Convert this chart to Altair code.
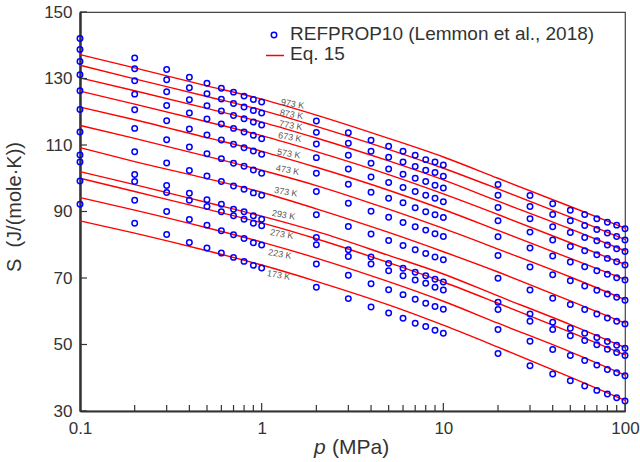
import altair as alt
import pandas as pd

# ---- data ----
temps = [973, 873, 773, 673, 573, 473, 373, 293, 273, 223, 173]
pressures = [0.1, 0.2, 0.3, 0.4, 0.5, 0.6, 0.7, 0.8, 0.9, 1,
             2, 3, 4, 5, 6, 7, 8, 9, 10,
             20, 30, 40, 50, 60, 70, 80, 90, 100]

s_973 = [142.0,136.2,132.7,130.4,128.6,127.1,125.9,124.7,123.7,122.9,117.2,113.7,111.4,109.6,108.1,106.9,105.6,104.9,104.0,98.1,94.8,92.3,90.4,89.1,87.8,86.8,85.9,84.8]
s_873 = [138.7,132.9,129.6,127.2,125.4,123.8,122.5,121.4,120.4,119.6,113.8,110.5,108.1,106.3,104.9,103.5,102.4,101.7,100.6,94.9,91.5,89.1,87.2,85.8,84.6,83.5,82.5,81.4]
s_773 = [135.1,129.3,126.0,123.6,121.8,120.2,118.9,117.9,116.9,116.0,110.3,106.9,104.5,102.8,101.2,100.0,99.0,97.9,97.1,91.2,87.8,85.4,83.7,82.2,81.2,79.9,78.8,78.0]
s_673 = [131.1,125.3,121.9,119.6,117.8,116.3,115.0,113.9,112.9,111.9,106.2,102.8,100.4,98.7,97.2,96.0,94.9,94.0,92.9,87.2,83.8,81.4,79.5,78.2,77.0,75.9,74.9,73.9]
s_573 = [126.3,120.6,117.3,114.8,113.0,111.5,110.2,109.2,108.2,107.2,101.5,98.2,95.8,94.0,92.6,91.1,89.9,89.0,88.2,82.4,79.0,76.6,74.8,73.4,72.2,71.1,70.1,69.4]
s_473 = [120.7,115.0,111.6,109.4,107.4,105.9,104.5,103.6,102.5,101.5,96.0,92.5,90.1,88.3,86.7,85.4,84.4,83.3,82.5,76.8,73.3,71.0,69.2,67.6,66.3,65.2,64.2,63.3]
s_373 = [113.9,108.0,104.6,102.3,100.7,99.0,97.7,96.7,95.6,94.9,89.0,85.5,83.2,81.3,79.8,78.5,77.4,76.3,75.5,69.9,66.4,63.9,62.0,60.5,59.2,58.0,57.0,56.2]
s_293 = [107.0,101.1,97.8,95.5,93.5,92.2,90.7,89.9,88.7,87.7,82.2,78.5,76.3,74.4,72.9,71.7,70.7,69.6,68.8,62.7,59.2,56.7,54.9,53.4,52.1,50.9,49.8,48.9]
s_273 = [104.9,99.0,95.7,93.4,91.5,89.9,88.7,87.7,86.5,85.7,80.0,76.5,74.2,72.2,70.7,69.4,68.4,67.2,66.4,60.5,57.0,54.5,52.6,51.2,49.9,48.6,47.6,46.7]
s_223 = [99.2,93.4,90.0,87.6,85.9,84.2,83.0,81.9,80.6,79.9,74.2,70.8,68.3,66.5,65.0,63.6,62.4,61.4,60.6,54.5,51.0,48.5,46.7,45.2,43.8,42.5,41.5,40.6]
s_173 = [92.2,86.5,83.1,80.7,79.0,77.5,76.2,75.0,73.8,73.0,67.2,63.8,61.3,59.5,57.9,56.4,55.4,54.3,53.4,47.3,43.6,41.1,39.1,37.5,36.2,35.1,34.0,33.0]
points_by_T = [s_973, s_873, s_773, s_673, s_573, s_473, s_373, s_293, s_273, s_223, s_173]

# Eq. 15 curves
line_pressures = [0.1, 0.2, 0.5, 1, 2, 5, 10, 20, 50, 100]
l_973 = [137.2,133.2,127.8,123.8,119.0,112.0,106.4,100.0,91.5,85.0]
l_873 = [134.0,129.9,124.6,120.5,115.6,108.7,103.0,96.8,88.3,81.6]
l_773 = [130.2,126.3,121.0,116.9,112.1,105.2,99.5,93.1,84.8,78.2]
l_673 = [126.2,122.3,117.0,112.8,108.0,101.1,95.3,89.1,80.6,74.1]
l_573 = [121.4,117.6,112.2,108.1,103.3,96.4,90.6,84.3,75.9,69.6]
l_473 = [115.9,112.0,106.6,102.4,97.8,90.7,84.9,78.7,70.3,63.5]
l_373 = [109.2,105.0,99.9,95.8,90.8,83.7,77.9,71.8,63.1,56.4]
l_293 = [102.0,98.1,92.7,88.6,84.0,76.8,71.2,64.6,56.0,49.1]
l_273 = [100.0,96.0,90.7,86.6,81.8,74.6,68.8,62.4,53.7,46.9]
l_223 = [94.2,90.4,85.1,80.8,76.0,68.9,63.0,56.4,47.8,40.8]
l_173 = [87.2,83.5,78.2,73.9,69.0,61.9,55.8,49.2,40.2,33.2]
lines_by_T = [l_973, l_873, l_773, l_673, l_573, l_473, l_373, l_293, l_273, l_223, l_173]

# isotherm labels
label_text = ["973 K", "873 K", "773 K", "673 K", "573 K", "473 K", "373 K", "293 K", "273 K", "223 K", "173 K"]
label_p = [1.48, 1.46, 1.45, 1.43, 1.41, 1.39, 1.36, 1.32, 1.29, 1.26, 1.24]
label_S = [122.4, 119.2, 115.9, 112.4, 107.4, 102.5, 95.9, 89.0, 83.2, 77.2, 70.9]

x_label_values = [0.1, 1, 10, 100]
x_major_ticks = [1, 10, 100]
x_minor_ticks = [0.2, 0.3, 0.4, 0.5, 0.6, 0.7, 0.8, 0.9, 2, 3, 4, 5, 6, 7, 8, 9,
                 20, 30, 40, 50, 60, 70, 80, 90]
y_tick_values = [30, 50, 70, 90, 110, 130, 150]

# ---- tables ----
pts = pd.DataFrame([
    {"T": t, "p": p, "S": s}
    for t, row in zip(temps, points_by_T) for p, s in zip(pressures, row)
])
lns = pd.DataFrame([
    {"T": t, "p": p, "S": s}
    for t, row in zip(temps, lines_by_T) for p, s in zip(line_pressures, row)
])
labs = pd.DataFrame({"txt": label_text, "p": label_p, "S": label_S})

FONT = "Liberation Sans"
W, H = 545, 399

xscale = alt.Scale(type="log", domain=[0.1, 100], nice=False)
yscale = alt.Scale(domain=[30, 150], nice=False, zero=False)
xaxis = alt.Axis(values=x_label_values, format="~g", ticks=False, grid=False, title=None,
                 labelFontSize=17, labelPadding=9, labelFont=FONT, labelColor="#333",
                 domainWidth=2.2, domainColor="#333", labelFlush=False)
yaxis = alt.Axis(values=y_tick_values, ticks=False, grid=False, title=None,
                 labelFontSize=17, labelPadding=8, labelFont=FONT, labelColor="#333",
                 domainWidth=2.5, domainColor="#333", labelFlush=False)

def X():
    return alt.X("p:Q", scale=xscale, axis=xaxis)

def Y():
    return alt.Y("S:Q", scale=yscale, axis=yaxis)

lines = alt.Chart(lns).mark_line(color="#ff0000", strokeWidth=1.4, interpolate="monotone").encode(
    x=X(), y=Y(), detail="T:N", order="p:Q")

points = alt.Chart(pts).mark_point(shape="circle", filled=False, color="#0000ff",
                                   size=30, strokeWidth=1.5, opacity=1).encode(x=X(), y=Y())

labels = alt.Chart(labs).mark_text(fontSize=9, font=FONT, color="#555", angle=10,
                                   align="center", baseline="middle").encode(
    x=X(), y=Y(), text="txt:N")

xmaj = alt.Chart(pd.DataFrame({"p": x_major_ticks})).mark_rule(color="#333", strokeWidth=1.2).encode(
    x=X(), y=alt.value(H), y2=alt.value(H - 8))
xmin = alt.Chart(pd.DataFrame({"p": x_minor_ticks})).mark_rule(color="#333", strokeWidth=1.2).encode(
    x=X(), y=alt.value(H), y2=alt.value(H - 6))
yt = alt.Chart(pd.DataFrame({"S": y_tick_values})).mark_rule(color="#333", strokeWidth=1.2).encode(
    y=Y(), x=alt.value(0), x2=alt.value(7))

one = pd.DataFrame({"a": [0]})
leg_pt = alt.Chart(one).mark_point(shape="circle", filled=False, color="#0000ff", size=30,
                                   strokeWidth=1.5, opacity=1).encode(
    x=alt.value(194), y=alt.value(23))
leg_ln = alt.Chart(one).mark_rule(color="#ff0000", strokeWidth=1.5).encode(
    x=alt.value(186), x2=alt.value(204), y=alt.value(43.5))
leg_t1 = alt.Chart(one).mark_text(text="REFPROP10 (Lemmon et al., 2018)", fontSize=19, font=FONT,
                                  color="#333", align="left", baseline="alphabetic").encode(
    x=alt.value(210), y=alt.value(28))
leg_t2 = alt.Chart(one).mark_text(text="Eq. 15", fontSize=19, font=FONT,
                                  color="#333", align="left", baseline="alphabetic").encode(
    x=alt.value(210), y=alt.value(48))

ytitle = alt.Chart(one).mark_text(text="S\u00a0\u00a0(J/(mole\u00b7K))", fontSize=20, font=FONT, color="#333",
                                  angle=270, align="center", baseline="middle").encode(
    x=alt.value(-65), y=alt.value(195))
xt_p = alt.Chart(one).mark_text(text="p", fontSize=21, font=FONT, fontStyle="italic", color="#333",
                                align="left", baseline="alphabetic").encode(
    x=alt.value(234), y=alt.value(442))
xt_u = alt.Chart(one).mark_text(text="(MPa)", fontSize=21, font=FONT, color="#333",
                                align="left", baseline="alphabetic").encode(
    x=alt.value(252), y=alt.value(442))

chart = alt.layer(lines, points, labels, xmaj, xmin, yt,
                  leg_pt, leg_ln, leg_t1, leg_t2, ytitle, xt_p, xt_u).properties(
    width=W, height=H,
    autosize=alt.AutoSizeParams(type="none"),
    padding={"left": 80, "top": 12, "right": 15, "bottom": 51},
    background="white",
).configure_view(stroke="#444", strokeWidth=1.2)

chart.save("out.html", embed_options={"renderer": "svg", "actions": False})
